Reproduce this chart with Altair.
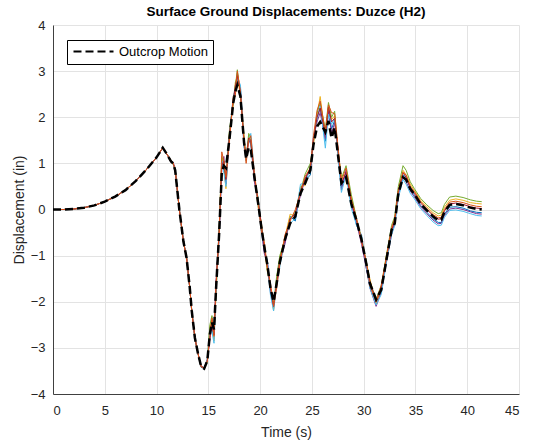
import altair as alt
import pandas as pd

# ---------------- data ----------------
time_s = [0, 1, 2, 3, 4, 5, 6, 7, 8, 9, 10, 10.6, 11.0,
          11.4, 11.6, 11.8, 12.2, 12.6, 12.9, 13.2, 13.4, 13.7, 14.0, 14.3, 14.6, 14.9, 15.15, 15.35, 15.55, 15.75, 16.05,
          16.3, 16.5, 16.7, 17.05, 17.4, 17.6, 17.8, 18.1, 18.45, 18.65, 18.9, 19.1, 19.45, 19.8, 20.1, 20.4, 20.7, 21.0, 21.3, 21.6,
          21.9, 22.4, 22.9, 23.4, 23.9, 24.35, 24.85, 25.15, 25.5, 25.8, 26.3, 26.6, 26.9, 27.2, 27.5, 27.85, 28.3, 28.8, 29.3, 29.8,
          30.25, 30.6, 31.2, 31.7, 32.2, 32.7, 33.0, 33.35, 33.8, 34.1, 34.5, 34.9, 35.5, 36.1, 36.7, 37.2, 37.5, 37.8, 38.3, 38.9, 39.6, 40.3, 40.9, 41.4]

outcrop_in = [0.0, 0.0, 0.01, 0.04, 0.09, 0.17, 0.28, 0.42, 0.62, 0.86, 1.13, 1.34, 1.2,
              1.04, 1.0, 0.85, 0.0, -0.7, -1.05, -1.68, -2.2, -2.78, -3.12, -3.4, -3.45, -3.28, -2.7, -2.45, -2.6, -1.7, -0.5,
              0.8, 0.95, 0.9, 1.55, 2.3, 2.55, 2.7, 2.45, 1.45, 1.1, 1.35, 1.3, 0.7, 0.15, -0.35, -0.8, -1.2, -1.7, -2.0, -1.6,
              -1.15, -0.65, -0.3, -0.15, 0.35, 0.57, 0.85, 1.4, 1.8, 1.9, 1.68, 1.92, 1.55, 1.78, 1.22, 0.57, 0.7, 0.13, -0.23, -0.66,
              -1.17, -1.6, -1.95, -1.74, -1.09, -0.44, -0.3, 0.35, 0.7, 0.65, 0.45, 0.33, 0.12, -0.02, -0.15, -0.23, -0.22, -0.05, 0.1, 0.12, 0.09, 0.04, 0.01, 0.0]

# deviation of each surface-motion run from the outcrop motion (in)
dev_blue = [0, 0, 0, 0, 0, 0, 0, 0, 0, 0, 0, 0, 0,
            0.02, -0.01, 0.03, 0, 0, 0.01, 0, 0, 0, 0, -0.02, 0.01, 0.03, 0.1, -0.15, -0.2, 0.05, 0.1,
            0.2, -0.1, -0.3, 0.1, 0.05, 0.15, 0.1, 0.2, -0.1, 0.05, 0.2, 0.1, -0.05, 0.1, 0.05, -0.1, 0.1, -0.05, -0.15, 0.05,
            0.1, -0.05, 0.15, -0.1, 0.1, 0.05, -0.1, 0.1, 0.2, 0.3, -0.2, 0.25, 0.2, 0.15, 0.1, -0.1, 0.1, 0.05, -0.1, 0.1,
            -0.1, 0.0, -0.1, 0.05, 0.0, -0.05, 0.05, 0.0, 0.05, 0.05, 0.0, -0.02, -0.03, -0.04, -0.05, -0.05, -0.06, -0.05, -0.05, -0.06, -0.06, -0.07, -0.07, -0.07]
dev_orange = [0, 0, 0, 0, 0, 0, 0, 0, 0, 0, 0, 0, 0,
              -0.01, 0.02, 0.0, 0, 0, 0, 0, 0, 0, 0, 0.01, -0.01, 0.0, -0.05, 0.1, -0.15, 0.12, -0.05,
              0.45, 0.1, -0.2, -0.05, 0.15, -0.1, 0.3, 0.1, 0.05, -0.1, 0.15, 0.3, 0.1, 0.0, -0.1, 0.1, -0.05, 0.1, -0.1, -0.1,
              -0.05, 0.1, 0.05, 0.15, 0.0, 0.15, 0.05, 0.2, 0.35, 0.45, 0.0, 0.35, 0.55, 0.3, 0.2, 0.05, 0.2, 0.1, 0.05, -0.05,
              0.05, -0.05, -0.05, 0.1, 0.05, 0.05, 0.1, 0.05, 0.1, 0.1, 0.05, 0.06, 0.05, 0.04, 0.04, 0.05, 0.05, 0.05, 0.06, 0.06, 0.06, 0.06, 0.06, 0.06]
dev_yellow = [0, 0, 0, 0, 0, 0, 0, 0, 0, 0, 0, 0, 0,
              0.03, 0.0, -0.02, 0, 0, 0, 0, 0, 0, 0, 0.0, 0.02, -0.02, 0.15, 0.05, -0.25, -0.05, 0.08,
              0.3, -0.05, -0.45, 0.15, -0.05, 0.2, 0.2, 0.0, 0.15, -0.05, 0.25, 0.15, 0.05, -0.1, 0.1, 0.0, -0.15, 0.05, -0.2, 0.1,
              0.1, 0.05, 0.2, 0.0, 0.15, -0.05, 0.1, 0.0, 0.25, 0.55, -0.1, 0.3, 0.4, 0.25, 0.05, 0.15, 0.05, 0.15, 0.0, 0.05,
              0.0, 0.1, -0.1, 0.0, 0.1, 0.0, 0.1, 0.1, 0.15, 0.1, 0.1, 0.08, 0.08, 0.08, 0.08, 0.09, 0.1, 0.1, 0.1, 0.11, 0.11, 0.11, 0.12, 0.12]
dev_purple = [0, 0, 0, 0, 0, 0, 0, 0, 0, 0, 0, 0, 0,
              -0.02, 0.03, 0.02, 0, 0, 0, 0, 0, 0, 0, 0.02, 0.0, 0.02, -0.1, -0.1, -0.1, 0.15, -0.1,
              0.1, 0.2, -0.35, 0.0, 0.1, 0.05, 0.25, 0.15, -0.05, 0.1, 0.1, 0.2, -0.1, 0.05, -0.05, -0.15, 0.05, -0.1, -0.1, 0.0,
              0.0, -0.1, 0.1, 0.05, -0.05, 0.1, 0.0, 0.15, 0.1, 0.2, -0.15, 0.2, 0.1, 0.1, 0.15, -0.15, 0.15, 0.0, -0.05, -0.1,
              -0.1, -0.1, -0.15, -0.05, -0.05, -0.1, 0.0, -0.05, 0.0, -0.05, -0.05, -0.06, -0.06, -0.07, -0.08, -0.08, -0.08, -0.08, -0.09, -0.09, -0.09, -0.09, -0.1, -0.1]
dev_green = [0, 0, 0, 0, 0, 0, 0, 0, 0, 0, 0, 0, 0,
             0.01, -0.02, 0.04, 0, 0, 0, 0, 0, 0, 0, -0.01, 0.01, -0.03, 0.2, 0.15, -0.05, -0.1, 0.12,
             0.35, 0.05, -0.25, 0.2, 0.0, 0.1, 0.33, 0.05, 0.1, 0.0, 0.3, 0.25, 0.0, 0.1, 0.0, 0.05, -0.1, 0.0, -0.05, 0.15,
             0.15, 0.0, 0.1, 0.1, 0.05, 0.2, 0.15, 0.05, 0.3, 0.4, 0.05, 0.4, 0.45, 0.35, 0.1, 0.1, 0.25, 0.2, 0.05, 0.0,
             0.05, 0.05, 0.0, 0.1, 0.1, 0.1, 0.15, 0.15, 0.25, 0.2, 0.15, 0.12, 0.12, 0.12, 0.13, 0.14, 0.15, 0.16, 0.17, 0.17, 0.17, 0.17, 0.17, 0.17]
dev_lightblue = [0, 0, 0, 0, 0, 0, 0, 0, 0, 0, 0, 0, 0,
                 0.0, 0.02, -0.03, 0, 0, 0, 0, 0, 0, 0, 0.01, -0.02, 0.01, 0.05, -0.2, -0.3, 0.0, -0.08,
                 0.25, -0.15, -0.4, 0.05, 0.15, 0.0, 0.15, 0.25, -0.05, -0.05, 0.15, 0.35, 0.1, -0.05, -0.1, -0.05, 0.0, -0.15, -0.2, -0.05,
                 -0.1, 0.05, 0.0, -0.05, 0.2, 0.0, 0.05, 0.15, 0.15, 0.35, -0.35, 0.15, 0.3, 0.2, 0.0, -0.2, 0.05, -0.1, -0.1, 0.05,
                 -0.05, -0.1, -0.12, -0.1, -0.05, -0.1, -0.05, -0.1, -0.05, -0.1, -0.1, -0.1, -0.1, -0.11, -0.12, -0.12, -0.12, -0.12, -0.12, -0.13, -0.13, -0.13, -0.14, -0.14]
dev_red = [0, 0, 0, 0, 0, 0, 0, 0, 0, 0, 0, 0, 0,
           0.02, 0.0, 0.01, 0, 0, 0, 0, 0, 0, 0, -0.01, 0.02, 0.0, -0.08, 0.05, -0.12, 0.08, 0.05,
           0.15, 0.1, -0.25, 0.1, 0.05, 0.1, 0.2, 0.1, 0.0, 0.05, 0.2, 0.2, 0.0, 0.05, 0.05, -0.05, -0.05, 0.0, -0.1, 0.0,
           0.05, 0.0, 0.1, 0.05, 0.05, 0.1, 0.05, 0.1, 0.2, 0.3, -0.05, 0.3, 0.35, 0.2, 0.1, 0.0, 0.1, 0.05, 0.0, 0.0,
           0.0, 0.05, -0.05, 0.05, 0.05, 0.0, 0.05, 0.05, 0.1, 0.05, 0.03, 0.02, 0.02, 0.02, 0.02, 0.02, 0.02, 0.02, 0.02, 0.02, 0.02, 0.02, 0.02, 0.02]

# draw order (orange ends up on top, like the reference)
runs = [("#0072BD", dev_blue), ("#EDB120", dev_yellow), ("#7E2F8E", dev_purple),
        ("#77AC30", dev_green), ("#4DBEEE", dev_lightblue), ("#A2142F", dev_red),
        ("#D95319", dev_orange)]

x_ticks = [0, 5, 10, 15, 20, 25, 30, 35, 40, 45]
y_ticks = [-4, -3, -2, -1, 0, 1, 2, 3, 4]

FONT = "Liberation Sans"
x_enc = alt.X("t:Q", scale=alt.Scale(domain=[0, 45], nice=False),
              axis=alt.Axis(values=x_ticks, title="Time (s)"))
y_enc = alt.Y("d:Q", scale=alt.Scale(domain=[-4, 4], nice=False),
              axis=alt.Axis(values=y_ticks, title="Displacement (in)"))

layers = []
for color, dev in runs:
    df = pd.DataFrame({"t": time_s, "d": [b + e for b, e in zip(outcrop_in, dev)]})
    layers.append(alt.Chart(df).mark_line(color=color, strokeWidth=1, clip=True).encode(x=x_enc, y=y_enc))

df_out = pd.DataFrame({"t": time_s, "d": outcrop_in, "label": ["Outcrop Motion"] * len(time_s)})
outcrop = alt.Chart(df_out).mark_line(strokeWidth=2.5, strokeDash=[8, 4], clip=True).encode(
    x=x_enc, y=y_enc,
    color=alt.Color("label:N", scale=alt.Scale(range=["black"]),
                    legend=alt.Legend(title=None, orient="none", legendX=14, legendY=15,
                                      fillColor="white", strokeColor="black", padding=5,
                                      symbolType="M-1,0H7", symbolSize=100, symbolDash=[8, 4],
                                      symbolStrokeWidth=2, symbolStrokeColor="black",
                                      labelOffset=34, labelFont=FONT, labelFontSize=13,
                                      labelColor="black")))
layers.append(outcrop)

chart = alt.layer(*layers).properties(
    width=466, height=369,
    title=alt.TitleParams("Surface Ground Displacements: Duzce (H2)", font=FONT, fontSize=13.5,
                          fontWeight="bold", color="black", offset=1, anchor="middle"),
    autosize=alt.AutoSizeParams(type="none"),
    padding={"left": 53, "top": 25, "right": 15, "bottom": 52},
).configure_view(stroke=None).configure_axis(
    labelFont=FONT, titleFont=FONT, labelFontSize=13, titleFontSize=14,
    labelColor="#262626", titleColor="#262626", titleFontWeight="normal",
    gridColor="#e3e3e3", domainColor="#404040", tickSize=0,
).configure_axisX(labelPadding=10, titlePadding=8).configure_axisY(labelPadding=8, titlePadding=4)

chart.save("out.html", embed_options={"renderer": "svg", "actions": False})
